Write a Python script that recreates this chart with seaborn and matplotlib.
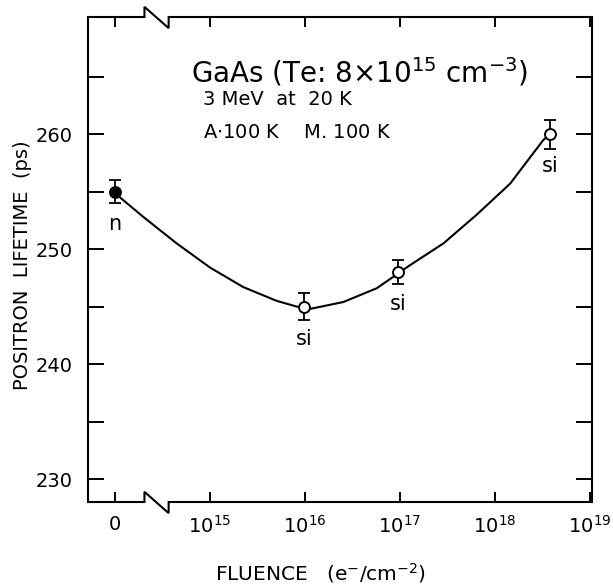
import numpy as np
import pandas as pd
import matplotlib
matplotlib.use("Agg")
import matplotlib.pyplot as plt
from matplotlib.ticker import FixedLocator, NullLocator
import seaborn as sns

# measured points (fluence 0 is drawn where 1e14 would sit on the log axis)
fluence = [0, 9.7e15, 9.5e16, 3.8e18]
lifetime = [255.0, 245.0, 248.0, 260.0]
lifetime_err = [1.0, 1.15, 1.05, 1.25]
state = ["n", "si", "si", "si"]
filled = [True, False, False, False]

# hand-drawn guide curve
curve_fluence = [1.13e14, 1.99e14, 4.46e14, 1.0e15, 2.24e15, 5.04e15, 8.2e15,
                 1.13e16, 2.53e16, 5.69e16, 1.27e17, 2.86e17, 6.41e17,
                 1.44e18, 3.22e18, 3.63e18]
curve_lifetime = [254.5, 252.8, 250.5, 248.4, 246.7, 245.5, 245.0,
                  244.8, 245.4, 246.6, 248.6, 250.5, 253.0,
                  255.7, 259.5, 259.9]

xtick_vals = [1e14, 1e15, 1e16, 1e17, 1e18, 1e19]
xtick_labels = ["0", "$10^{15}$", "$10^{16}$", "$10^{17}$", "$10^{18}$", "$10^{19}$"]
ytick_major = [230, 240, 250, 260]
ytick_minor = [235, 245, 255, 265]

ZERO_POS = 1e14
df = pd.DataFrame({"fluence": fluence, "lifetime": lifetime,
                   "err": lifetime_err, "state": state, "filled": filled})
df["xpos"] = df["fluence"].where(df["fluence"] > 0, ZERO_POS)
curve = pd.DataFrame({"fluence": curve_fluence, "lifetime": curve_lifetime})

sns.set_theme(style="white")
plt.rcParams["font.family"] = ["DejaVu Sans"]
plt.rcParams["mathtext.default"] = "regular"
for k in ["text.color", "axes.labelcolor", "xtick.color", "ytick.color"]:
    plt.rcParams[k] = "black"

fig = plt.figure(figsize=(6.13, 5.88), dpi=100)
ax = fig.add_axes([88 / 613, 1 - 502 / 588, 504 / 613, 485 / 588])
ax.set_xscale("log")
ax.set_xlim(10 ** 13.716, 10 ** 19.02)
ax.set_ylim(228.0, 270.2)

sns.lineplot(data=curve, x="fluence", y="lifetime", sort=False, color="black",
             linewidth=1.5, ax=ax, zorder=2, solid_joinstyle="round")

ax.errorbar(df["xpos"], df["lifetime"], yerr=df["err"], fmt="none",
            ecolor="black", elinewidth=1.3, capsize=4, capthick=1.3, zorder=3)
for f, d in df.groupby("filled"):
    sns.scatterplot(data=d, x="xpos", y="lifetime", ax=ax, s=62,
                    color="black" if f else "white", edgecolor="black",
                    linewidth=1.4, zorder=4, legend=False)

for _, r in df.iterrows():
    ax.annotate(r["state"], (r["xpos"], r["lifetime"]), xytext=(0, -23),
                textcoords="offset points", ha="center", va="center", fontsize=15)

ax.set_xlabel("")
ax.set_ylabel("")
ax.xaxis.set_major_locator(FixedLocator(xtick_vals))
ax.set_xticklabels(xtick_labels)
ax.xaxis.set_minor_locator(NullLocator())
ax.set_yticks(ytick_major)
ax.set_yticks(ytick_minor, minor=True)
ax.tick_params(axis="x", which="both", direction="in", top=True, bottom=True,
               length=7, width=1.4, pad=9, labelsize=14, color="black")
ax.tick_params(axis="y", which="both", direction="in", left=True, right=True,
               length=11.5, width=1.4, pad=11, labelsize=14, color="black")

for s in ["left", "right"]:
    ax.spines[s].set_linewidth(1.5)
    ax.spines[s].set_color("black")
ax.spines["top"].set_visible(False)
ax.spines["bottom"].set_visible(False)

# broken frame on top and bottom
bx1, bx2, up, dn = 0.112, 0.16, 0.021, 0.023
ax.plot([0, bx1, bx1, bx2, bx2, 1], [1, 1, 1 + up, 1 - dn, 1, 1],
        transform=ax.transAxes, color="black", lw=1.5, clip_on=False,
        solid_joinstyle="miter")
ax.plot([0, bx1, bx1, bx2, bx2, 1], [0, 0, up, -dn, 0, 0],
        transform=ax.transAxes, color="black", lw=1.5, clip_on=False,
        solid_joinstyle="miter")

ax.text(0.538, 0.887, "GaAs (Te: 8$\\times$10$^{15}$ cm$^{-3}$)",
        transform=ax.transAxes, ha="center", va="center", fontsize=20)
ax.text(0.228, 0.829, "3 MeV  at  20 K", transform=ax.transAxes,
        ha="left", va="center", fontsize=14)
ax.text(0.228, 0.761, "A$\\cdot$100 K    M. 100 K", transform=ax.transAxes,
        ha="left", va="center", fontsize=14)

fig.text(23 / 613, 1 - 265 / 588, "POSITRON  LIFETIME  (ps)", rotation=90,
         ha="center", va="center", fontsize=14)
fig.text(321 / 613, 1 - 573 / 588, "FLUENCE   (e$^{-}$/cm$^{-2}$)",
         ha="center", va="center", fontsize=14.5)

fig.savefig("out.png", dpi=100, facecolor="white")
